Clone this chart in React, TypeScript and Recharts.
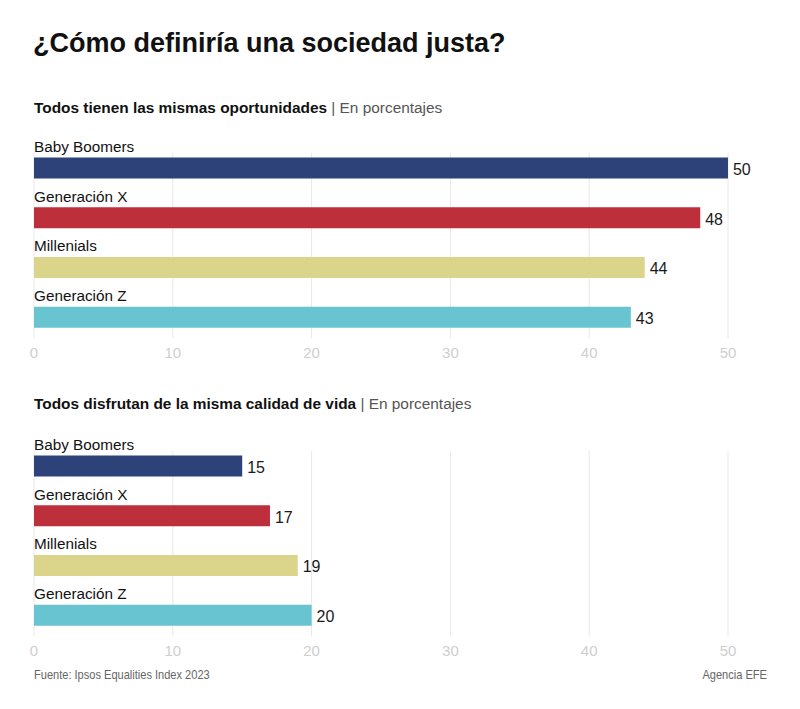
import React from "react";
import { BarChart, Bar, XAxis, YAxis, CartesianGrid, LabelList, Cell } from "recharts";

const generations = ["Baby Boomers", "Generación X", "Millenials", "Generación Z"];
const oportunidades = [50, 48, 44, 43];
const calidadVida = [15, 17, 19, 20];
const barColors = ["#2d4279", "#bd2f3a", "#dbd48b", "#67c4d0"];
const xTicks = [0, 10, 20, 30, 40, 50];

const FONT = "'Liberation Sans', Arial, Helvetica, sans-serif";

const dataA = generations.map((name, i) => ({ name, value: oportunidades[i] }));
const dataB = generations.map((name, i) => ({ name, value: calidadVida[i] }));

const GridLine = (props: any) => {
  const { x1, x2, y1, y2 } = props;
  return <line x1={x1} x2={x2} y1={y1 + 9.5} y2={y2 - 4} stroke="#e8e8e8" strokeWidth={1} />;
};

const NameLabel = (props: any) => {
  const { x, y, value } = props;
  return (
    <text x={x} y={y - 5.5} fill="#111" fontSize={15.3} fontFamily={FONT} textAnchor="start">
      {value}
    </text>
  );
};

const ValueLabel = (props: any) => {
  const { x, y, width, height, value } = props;
  return (
    <text
      x={x + width + 5}
      y={y + height / 2 + 7}
      fill="#1a1a1a"
      fontSize={16}
      fontFamily={FONT}
      textAnchor="start"
    >
      {value}
    </text>
  );
};

function Panel({ data, top }: { data: { name: string; value: number }[]; top: number }) {
  return (
    <div style={{ position: "absolute", left: 0, top }}>
      <BarChart
        width={800}
        height={272.4}
        data={data}
        layout="vertical"
        margin={{ top: 43.6, right: 72, bottom: 0, left: 34 }}
        barSize={21}
      >
        <CartesianGrid horizontal={false} vertical={GridLine as any} />
        <XAxis
          type="number"
          domain={[0, 50]}
          ticks={xTicks}
          axisLine={false}
          tickLine={false}
          tickSize={0}
          tickMargin={5}
          height={30}
          tick={{ fill: "#cfcfcf", fontSize: 15, fontFamily: FONT }}
          interval={0}
        />
        <YAxis type="category" dataKey="name" hide width={0} />
        <Bar dataKey="value" isAnimationActive={false}>
          {data.map((d, i) => (
            <Cell key={d.name} fill={barColors[i]} />
          ))}
          <LabelList dataKey="name" content={NameLabel as any} />
          <LabelList dataKey="value" content={ValueLabel as any} />
        </Bar>
      </BarChart>
    </div>
  );
}

const footerStyle: React.CSSProperties = {
  position: "absolute",
  top: 667,
  fontSize: 13,
  lineHeight: "16px",
  color: "#666",
  whiteSpace: "nowrap",
  transform: "scaleX(0.85)",
};

export default function App() {
  return (
    <div
      style={{
        position: "absolute",
        left: 0,
        top: 0,
        width: 800,
        height: 709,
        background: "#fff",
        fontFamily: FONT,
        overflow: "hidden",
      }}
    >
      <div
        style={{
          position: "absolute",
          left: 33,
          top: 27,
          fontSize: 27,
          lineHeight: "32px",
          fontWeight: 700,
          color: "#111",
          whiteSpace: "nowrap",
        }}
      >
        ¿Cómo definiría una sociedad justa?
      </div>
      <div
        style={{
          position: "absolute",
          left: 34,
          top: 99,
          fontSize: 15.4,
          lineHeight: "18px",
          color: "#111",
          whiteSpace: "nowrap",
        }}
      >
        <span style={{ fontWeight: 700 }}>Todos tienen las mismas oportunidades</span>
        <span style={{ color: "#555" }}> | En porcentajes</span>
      </div>
      <Panel data={dataA} top={100} />
      <div
        style={{
          position: "absolute",
          left: 34,
          top: 395,
          fontSize: 15.4,
          lineHeight: "18px",
          color: "#111",
          whiteSpace: "nowrap",
        }}
      >
        <span style={{ fontWeight: 700 }}>Todos disfrutan de la misma calidad de vida</span>
        <span style={{ color: "#555" }}> | En porcentajes</span>
      </div>
      <Panel data={dataB} top={398} />
      <div style={{ ...footerStyle, left: 34, transformOrigin: "left center" }}>
        Fuente: Ipsos Equalities Index 2023
      </div>
      <div style={{ ...footerStyle, right: 33, transformOrigin: "right center" }}>
        Agencia EFE
      </div>
    </div>
  );
}
